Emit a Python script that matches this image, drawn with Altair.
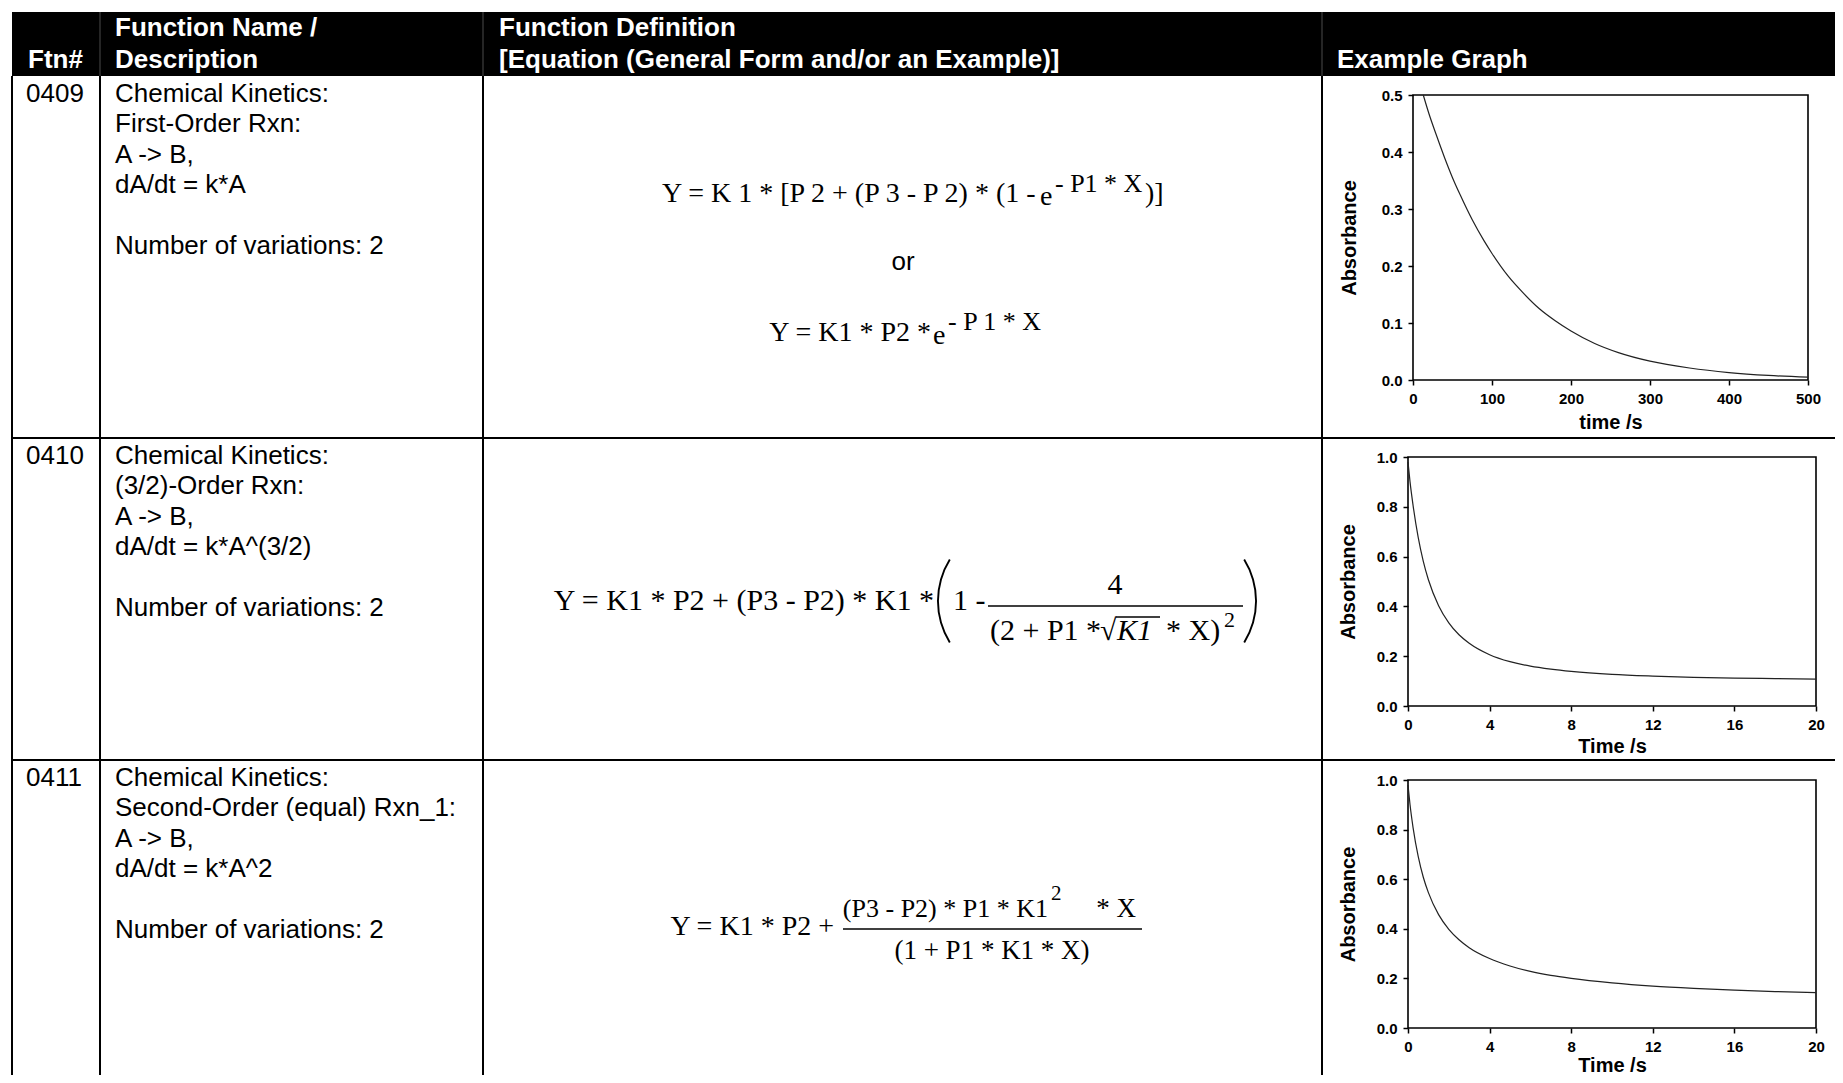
import altair as alt
import pandas as pd

# ------------------------------------------------------------------
# Table content
# ------------------------------------------------------------------
HEADER_LINE1 = ["", "Function Name /", "Function Definition", ""]
HEADER_LINE2 = ["Ftn#", "Description", "[Equation (General Form and/or an Example)]", "Example Graph"]
FTN_NUMBERS = ["0409", "0410", "0411"]
DESCRIPTIONS = [
    ["Chemical Kinetics:", "First-Order Rxn:", "A -> B,", "dA/dt = k*A", "", "Number of variations: 2"],
    ["Chemical Kinetics:", "(3/2)-Order Rxn:", "A -> B,", "dA/dt = k*A^(3/2)", "", "Number of variations: 2"],
    ["Chemical Kinetics:", "Second-Order (equal) Rxn_1:", "A -> B,", "dA/dt = k*A^2", "", "Number of variations: 2"],
]
# equation fragments (main text, exponent, fractions ...)
EQ1A = ["Y = K 1 * [P 2 + (P 3 - P 2) * (1 -", "e", "- P1 * X", ")]"]
EQ_OR = "or"
EQ1B = ["Y = K1 * P2 *", "e", "- P 1 * X"]
EQ2 = ["Y = K1 * P2 + (P3 - P2) * K1 *", "1 -", "4", "(2 + P1 *", "\u221a", "K1", "* X)", "2"]
EQ3 = ["Y = K1 * P2 +", "(P3 - P2) * P1 * K1", "2", "* X", "(1 + P1 * K1 * X)"]

# ------------------------------------------------------------------
# Example graph data
# ------------------------------------------------------------------
G1_TIME = [13, 20, 30, 40, 50, 60, 75, 90, 100, 120, 140, 160, 180, 200, 230, 260, 300, 350, 400, 450, 500]
G1_ABS = [0.500, 0.468, 0.428, 0.390, 0.355, 0.324, 0.281, 0.244, 0.222, 0.183, 0.152, 0.125, 0.104,
          0.086, 0.064, 0.048, 0.033, 0.021, 0.013, 0.008, 0.005]
G2_TIME = [0, 0.1, 0.25, 0.5, 0.75, 1, 1.5, 2, 2.5, 3, 4, 5, 6, 7, 8, 10, 12, 14, 16, 18, 20]
G2_ABS = [0.98, 0.90, 0.805, 0.677, 0.581, 0.507, 0.403, 0.334, 0.286, 0.252, 0.206, 0.178, 0.160,
          0.148, 0.139, 0.127, 0.120, 0.115, 0.112, 0.110, 0.108]
G3_TIME = [0, 0.1, 0.25, 0.5, 0.75, 1, 1.5, 2, 2.5, 3, 4, 5, 6, 7, 8, 10, 12, 14, 16, 18, 20]
G3_ABS = [0.98, 0.90, 0.807, 0.692, 0.608, 0.546, 0.457, 0.398, 0.356, 0.324, 0.280, 0.250, 0.228,
          0.212, 0.200, 0.182, 0.169, 0.160, 0.153, 0.147, 0.143]
G1_XTICKS = [0, 100, 200, 300, 400, 500]
G1_YTICKS = [0.0, 0.1, 0.2, 0.3, 0.4, 0.5]
G23_XTICKS = [0, 4, 8, 12, 16, 20]
G23_YTICKS = [0.0, 0.2, 0.4, 0.6, 0.8, 1.0]
Y_TITLE = "Absorbance"
X_TITLES = ["time /s", "Time /s", "Time /s"]

# ------------------------------------------------------------------
# Layout (page pixel coordinates)
# ------------------------------------------------------------------
W, H = 1827, 1067
OFF = 8
TABLE_LEFT, TABLE_RIGHT, TABLE_BOTTOM = 12, 1950, 1150
HEAD_TOP, HEAD_BOT = 12, 76
COL_X = [12, 100, 483, 1322]
ROW_TOPS = [76, 438, 760]
LINE_GAP = 30.4
SANS = "Liberation Sans"
SERIF = "Liberation Serif"
BODY_SIZE = 26
HEAD_SIZE = 26

XS = alt.Scale(domain=[OFF, OFF + W], nice=False, zero=False)
YS = alt.Scale(domain=[OFF, OFF + H], nice=False, zero=False, reverse=True)


def enc_xy():
    return dict(x=alt.X("x:Q", scale=XS, axis=None), y=alt.Y("y:Q", scale=YS, axis=None))


def text_layer(rows, font, weight="normal", style="normal", color="black", align="left"):
    df = pd.DataFrame(rows, columns=["text", "x", "y", "size"])
    return alt.Chart(df).mark_text(
        align=align, baseline="alphabetic", font=font, fontWeight=weight,
        fontStyle=style, color=color
    ).encode(
        text="text:N",
        size=alt.Size("size:Q", scale=None, legend=None),
        **enc_xy(),
    )


# header background
header_rect = alt.Chart(pd.DataFrame({"x": [TABLE_LEFT], "x2": [TABLE_RIGHT], "y": [HEAD_TOP], "y2": [HEAD_BOT]})).mark_rect(
    color="black"
).encode(
    x=alt.X("x:Q", scale=XS, axis=None), x2="x2:Q",
    y=alt.Y("y:Q", scale=YS, axis=None), y2="y2:Q",
)

# grid lines + fraction bars
rule_rows = []
for cx in COL_X:
    rule_rows.append((cx, cx, HEAD_BOT, TABLE_BOTTOM, 2, "black"))
for ry in ROW_TOPS[1:]:
    rule_rows.append((TABLE_LEFT, TABLE_RIGHT, ry, ry, 2, "black"))
for cx in COL_X[1:]:
    rule_rows.append((cx, cx, HEAD_TOP, HEAD_BOT, 1, "#4a4a4a"))
rule_rows.append((988, 1243, 606, 606, 1.4, "black"))   # eq 0410 fraction bar
rule_rows.append((1116, 1160, 617, 617, 1.3, "black"))  # sqrt overline
rule_rows.append((843, 1142, 929, 929, 1.4, "black"))   # eq 0411 fraction bar
rules_df = pd.DataFrame(rule_rows, columns=["x", "x2", "y", "y2", "w", "c"])
rules = alt.Chart(rules_df).mark_rule().encode(
    x=alt.X("x:Q", scale=XS, axis=None), x2="x2:Q",
    y=alt.Y("y:Q", scale=YS, axis=None), y2="y2:Q",
    strokeWidth=alt.StrokeWidth("w:Q", scale=None, legend=None),
    color=alt.Color("c:N", scale=None, legend=None),
)

# header text
HEAD_X = [28, 115, 499, 1337]
head_rows = []
for i in range(4):
    if HEADER_LINE1[i]:
        head_rows.append((HEADER_LINE1[i], HEAD_X[i], 36, HEAD_SIZE))
    if HEADER_LINE2[i]:
        head_rows.append((HEADER_LINE2[i], HEAD_X[i], 68, HEAD_SIZE))
header_text = text_layer(head_rows, SANS, weight="bold", color="white")

# body text
body_rows = []
for r, top in enumerate(ROW_TOPS):
    base = top + 26
    body_rows.append((FTN_NUMBERS[r], 26, base, BODY_SIZE))
    for j, line in enumerate(DESCRIPTIONS[r]):
        if line:
            body_rows.append((line, 115, base + j * LINE_GAP, BODY_SIZE))
body_text = text_layer(body_rows, SANS)
or_text = text_layer([(EQ_OR, 903, 270, BODY_SIZE)], SANS, align="center")

# equations
eq_left = text_layer([
    (EQ1A[0], 662, 202, 28), (EQ1A[1], 1040, 205, 28), (EQ1A[2], 1055, 192, 26), (EQ1A[3], 1145, 202, 28),
    (EQ1B[1], 933, 344, 28), (EQ1B[2], 948, 330, 26),
    (EQ2[1], 953, 610, 30), (EQ2[3], 990, 640, 30), (EQ2[4], 1100, 640, 30), (EQ2[6], 1166, 640, 30),
    (EQ2[7], 1224, 627, 22),
    (EQ3[2], 1051, 900, 21),
], SERIF)
eq_right = text_layer([
    (EQ1B[0], 931, 341, 28),
    (EQ2[0], 934, 610, 30),
    (EQ3[0], 834, 935, 28), (EQ3[1], 1048, 917, 26), (EQ3[3], 1136, 917, 27),
], SERIF, align="right")
eq_center = text_layer([
    (EQ2[2], 1115, 594, 30),
    (EQ3[4], 992, 959, 27),
], SERIF, align="center")
eq_italic = text_layer([(EQ2[5], 1117, 640, 30)], SERIF, style="italic")


def paren(cx, cy, t0, t1, r):
    df = pd.DataFrame({"x": [cx], "y": [cy]})
    return alt.Chart(df).mark_arc(theta=t0, theta2=t1, radius=r, radius2=r - 1.9, color="black").encode(**enc_xy())


paren_l = paren(1016.5, 601, 4.156, 5.269, 79.5)
paren_r = paren(1177.5, 601, 1.014, 2.127, 79.5)

table = alt.layer(header_rect, rules, header_text, body_text, or_text,
                  eq_left, eq_right, eq_center, eq_italic, paren_l, paren_r)


# ------------------------------------------------------------------
# Example graphs
# ------------------------------------------------------------------
def graph(tvals, avals, xdom, ydom, xticks, yticks, frame, xtitle, ytitle_pad, xtitle_pad):
    left, right, top, bottom = frame
    xs = alt.Scale(domain=xdom, range=[left - OFF, right - OFF], nice=False, zero=False)
    ys = alt.Scale(domain=ydom, range=[bottom - OFF, top - OFF], nice=False, zero=False)
    common = dict(domain=False, grid=False, ticks=True, tickSize=5, tickWidth=1.5, tickColor="black",
                  labelFont=SANS, labelFontWeight="bold", labelFontSize=15, labelColor="black",
                  labelFlush=False, labelOverlap=False,
                  titleFont=SANS, titleFontWeight="bold", titleFontSize=20, titleColor="black")
    xaxis = alt.Axis(orient="bottom", offset=(bottom - OFF) - H, values=xticks, format="d",
                     title=xtitle, labelPadding=6, titlePadding=xtitle_pad, **common)
    yaxis = alt.Axis(orient="left", offset=-(left - OFF), values=yticks, format=".1f",
                     title=Y_TITLE, labelPadding=6, titlePadding=ytitle_pad, **common)
    fdf = pd.DataFrame({"x0": [xdom[0]], "x1": [xdom[1]], "y0": [ydom[0]], "y1": [ydom[1]]})
    fr = alt.Chart(fdf).mark_rect(fillOpacity=0, stroke="black", strokeWidth=1.6).encode(
        x=alt.X("x0:Q", scale=xs, axis=xaxis), x2="x1:Q",
        y=alt.Y("y0:Q", scale=ys, axis=yaxis), y2="y1:Q",
    )
    ldf = pd.DataFrame({"t": tvals, "a": avals})
    ln = alt.Chart(ldf).mark_line(color="#222222", strokeWidth=1.2, interpolate="monotone").encode(
        x=alt.X("t:Q", scale=xs, axis=xaxis),
        y=alt.Y("a:Q", scale=ys, axis=yaxis),
    )
    return alt.layer(fr, ln)


g1 = graph(G1_TIME, G1_ABS, [0, 500], [0, 0.5], G1_XTICKS, G1_YTICKS, (1413, 1808, 95, 380), X_TITLES[0], 22, 6)
g2 = graph(G2_TIME, G2_ABS, [0, 20], [0, 1.0], G23_XTICKS, G23_YTICKS, (1408, 1816, 457, 706), X_TITLES[1], 18, 4)
g3 = graph(G3_TIME, G3_ABS, [0, 20], [0, 1.0], G23_XTICKS, G23_YTICKS, (1408, 1816, 780, 1028), X_TITLES[2], 18, 1)

chart = alt.layer(table, g1, g2, g3).resolve_scale(
    x="independent", y="independent"
).properties(
    width=W, height=H, padding=0, autosize=alt.AutoSizeParams(type="none"), background="white"
).configure_view(strokeWidth=0)

chart.save("out.html", embed_options={"renderer": "svg", "actions": False})
